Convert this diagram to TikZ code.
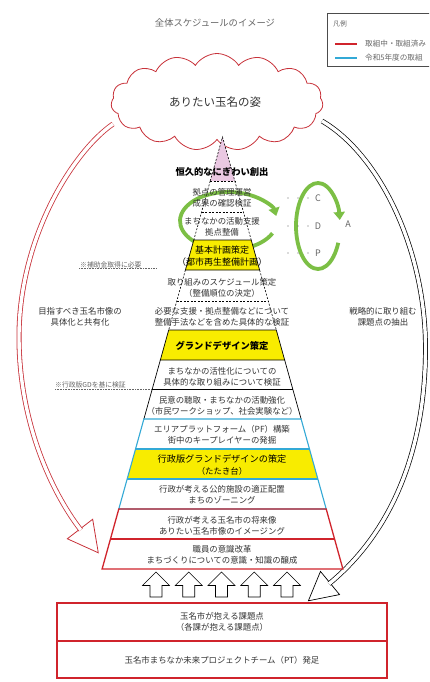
\documentclass[tikz,border=0pt]{standalone}
\usepackage{fontspec}
\setmainfont{Noto Sans CJK JP}
\usetikzlibrary{shapes.symbols,arrows.meta,calc}
\definecolor{pyrred}{HTML}{D0242C}
\definecolor{cloudred}{HTML}{C8323A}
\definecolor{pyrcyan}{HTML}{33A9D6}
\definecolor{pyryel}{HTML}{F8EC00}
\definecolor{pyrpink}{HTML}{EAC8E2}
\definecolor{ringgreen}{HTML}{7CBF45}
\definecolor{txtgray}{HTML}{333333}
\definecolor{notegray}{HTML}{666666}
\begin{document}
\begin{tikzpicture}[x=1pt,y=-1pt,
  lbl/.style={align=center, font=\fontsize{8.4}{11}\selectfont, text=txtgray, inner sep=0pt},
  lblbold/.style={align=center, font=\fontsize{9.3}{11}\selectfont\bfseries, text=black, inner sep=0pt},
  note/.style={anchor=west, font=\fontsize{6.8}{8}\selectfont, text=notegray, inner sep=0pt},
  dashedge/.style={black, line width=0.6pt, dash pattern=on 2pt off 1.5pt},
  solidedge/.style={black, line width=0.7pt},
  cyanedge/.style={pyrcyan, line width=1.1pt},
  rededge/.style={pyrred, line width=1.3pt},
  ring/.style={ringgreen, line width=3.8pt, -{Triangle[width=11pt,length=8pt]}},
  uparrow/.style={draw=black, fill=white, line width=0.6pt, line join=miter},
  dotleader/.style={notegray, line width=0.6pt, dash pattern=on 0.8pt off 0.8pt}
]
\useasboundingbox (0,0) rectangle (429,682);
\clip (0,0) rectangle (429,682);
\fill[white] (0,0) rectangle (429,682);

% title and legend
\node[font=\fontsize{9.3}{11}\selectfont, text=notegray] (title) at (215,23) {全体スケジュールのイメージ};
\draw[black!70, line width=0.6pt] (327,13) rectangle (440,66);
\node[note] (legtitle) at (333,24) {凡例};
\coordinate (lr1) at (335,44); \coordinate (lr2) at (357,44);
\coordinate (lc1) at (335,58); \coordinate (lc2) at (357,58);
\draw[pyrred, line width=1.2pt] (lr1) -- (lr2);
\draw[pyrcyan, line width=1.2pt] (lc1) -- (lc2);
\node[note, font=\fontsize{7.6}{8}\selectfont] (legred) at (365,44) {取組中・取組済み};
\node[note, font=\fontsize{7.6}{8}\selectfont] (legcyan) at (365,58) {令和5年度の取組};

% cloud
\node[cloud, cloud puffs=15, cloud puff arc=115, cloud ignores aspect, draw=cloudred, fill=white,
      line width=0.8pt, minimum width=212pt, minimum height=97pt, inner sep=0pt] (cloud) at (217,102) {};
\node[font=\fontsize{11.5}{13}\selectfont, text=txtgray] (cloudtxt) at (215,102) {ありたい玉名の姿};

% left big arrow (red)
\coordinate (LS) at (113,124);
\coordinate (LM) at (19,337);
\coordinate (LC2) at (50,490);
\coordinate (LE) at (80,529);
\coordinate (LT) at ($(LE)!-30pt!(LC2)$);
\coordinate (LB1) at ($(LE)!16pt!90:(LT)$);
\coordinate (LB2) at ($(LE)!16pt!-90:(LT)$);
\draw[cloudred, fill=white, line width=0.8pt, line join=miter] (LB1) -- (LT) -- (LB2) -- cycle;
\draw[cloudred, line width=0.8pt, double=white, double distance=3.4pt]
  (LS) .. controls (75,150) and (19,235) .. (LM) .. controls (19,420) and (LC2) .. ($(LE)!-1.2pt!(LC2)$);

% right big arrow (black)
\coordinate (RS) at (322,121);
\coordinate (RM) at (425.5,348);
\coordinate (RC2) at (392,532);
\coordinate (RE) at (330,583);
\coordinate (RT) at ($(RE)!-28pt!(RC2)$);
\coordinate (RB1) at ($(RE)!15pt!90:(RT)$);
\coordinate (RB2) at ($(RE)!15pt!-90:(RT)$);
\draw[black, fill=white, line width=0.7pt, line join=miter] (RB1) -- (RT) -- (RB2) -- cycle;
\draw[black, line width=0.7pt, double=white, double distance=3.4pt]
  (RS) .. controls (380,155) and (425.5,250) .. (RM) .. controls (425.5,450) and (RC2) .. ($(RE)!-1.2pt!(RC2)$);

% pyramid fills
\fill[pyrpink] (222.5,137) -- (234.8,181) -- (210.2,181) -- cycle;
% left green ring
\draw[ring] ([shift={(25:48.5 and 29)}]228.5,221) arc[start angle=25, end angle=350, x radius=48.5, y radius=29];
\fill[pyryel] (193.8,240) -- (251.2,240) -- (259.6,270) -- (185.4,270) -- cycle;
\fill[pyryel] (168.7,330) -- (276.3,330) -- (284.65,360) -- (160.35,360) -- cycle;
\fill[pyryel] (135.55,449) -- (309.45,449) -- (317.8,479) -- (127.2,479) -- cycle;

% pyramid outlines
\draw[dashedge] (210.2,181) -- (222.5,137) -- (234.8,181);
\draw[dashedge] (210.2,181) -- (193.8,240);
\draw[dashedge] (234.8,181) -- (251.2,240);
\draw[dashedge] (210.2,181) -- (234.8,181);
\draw[dashedge] (201.6,212) -- (243.4,212);
\draw[solidedge] (193.8,240) -- (251.2,240) -- (259.6,270) -- (185.4,270) -- cycle;
\draw[dashedge] (185.4,270) -- (168.7,330);
\draw[dashedge] (259.6,270) -- (276.3,330);
\draw[dashedge] (176.8,301) -- (268.2,301);
\draw[solidedge] (168.7,330) -- (276.3,330) -- (284.65,360) -- (160.35,360) -- cycle;
\draw[solidedge] (160.35,360) -- (143.9,419);
\draw[solidedge] (284.65,360) -- (301.1,419);
\draw[solidedge] (152.3,389) -- (292.7,389);
\draw[cyanedge] (143.9,419) -- (301.1,419) -- (326.2,509) -- (118.8,509) -- cycle;
\draw[cyanedge] (135.55,449) -- (309.45,449);
\draw[cyanedge] (127.2,479) -- (317.8,479);
\draw[rededge] (118.8,509) -- (326.2,509) -- (342.9,569) -- (102.1,569) -- cycle;
\draw[rededge] (110.5,539) -- (334.5,539);

% pyramid texts
\node[lblbold] (t1) at (222,172) {恒久的なにぎわい創出};
\node[lbl] (t2) at (222,197.5) {拠点の管理運営\\成果の確認検証};
\node[lbl] (t3) at (222,227) {まちなかの活動支援\\拠点整備};
\node[lbl, font=\fontsize{9}{12}\selectfont, text=black] (t4) at (222,256) {基本計画策定\\（都市再生整備計画）};
\node[lbl] (t5) at (222,287.5) {取り組みのスケジュール策定\\（整備順位の決定）};
\node[lbl] (t6) at (222,316.5) {必要な支援・拠点整備などについて\\整備手法などを含めた具体的な検証};
\node[lblbold] (t7) at (222,346) {グランドデザイン策定};
\node[lbl] (t8) at (222,376.5) {まちなかの活性化についての\\具体的な取り組みについて検証};
\node[lbl] (t9) at (222,406) {民意の聴取・まちなかの活動強化\\（市民ワークショップ、社会実験など）};
\node[lbl] (t10) at (222,435) {エリアプラットフォーム（PF）構築\\街中のキープレイヤーの発掘};
\node[lbl, font=\fontsize{9.2}{12}\selectfont, text=black] (t11) at (222,465) {行政版グランドデザインの策定\\{\fontsize{8.4}{11}\selectfont（たたき台）}};
\node[lbl] (t12) at (222,494.5) {行政が考える公的施設の適正配置\\まちのゾーニング};
\node[lbl] (t13) at (222,525.5) {行政が考える玉名市の将来像\\ありたい玉名市像のイメージング};
\node[lbl] (t14) at (222,554.5) {職員の意識改革\\まちづくりについての意識・知識の醸成};

% notes with dotted leaders
\node[note] (n1) at (80,265) {※補助金取得に必要};
\draw[dotleader] (79,268.5) -- (157,268.5);
\node[note] (n2) at (55,385) {※行政版GDを基に検証};
\draw[dotleader] (55,389) -- (152.3,389);

% side labels
\node[lbl] (sideL) at (80,316.5) {目指すべき玉名市像の\\具体化と共有化};
\node[lbl] (sideR) at (383,316.5) {戦略的に取り組む\\課題点の抽出};

% PDCA
\draw[ring] ([shift={(23:22 and 43)}]318,226) arc[start angle=23, end angle=352, x radius=22, y radius=43];
\foreach \yy/\ll in {198/C,226/D,253/P}{
  \foreach \xx in {288,298,308}{\fill[notegray] (\xx,\yy) circle (0.6pt);}
  \node[font=\fontsize{9}{10}\selectfont, text=notegray, inner sep=0pt] (pd\ll) at (318,\yy) {\ll};
}
\node[font=\fontsize{9}{10}\selectfont, text=notegray, inner sep=0pt] (pdA) at (348,224) {A};

% up arrows
\foreach \i in {0,...,4}{
  \pgfmathsetmacro{\cx}{156+32.75*\i}
  \draw[uparrow] (\cx-6,597) -- (\cx-6,585.5) -- (\cx-13.5,585.5) -- (\cx,572) -- (\cx+13.5,585.5) -- (\cx+6,585.5) -- (\cx+6,597) -- cycle;
}

% bottom boxes
\draw[rededge] (57,603) rectangle (387,678);
\draw[rededge] (57,641) -- (387,641);
\node[lbl] (b1) at (222,622) {玉名市が抱える課題点\\（各課が抱える課題点）};
\node[lbl] (b2) at (222,660) {玉名市まちなか未来プロジェクトチーム（PT）発足};
\end{tikzpicture}
\end{document}
